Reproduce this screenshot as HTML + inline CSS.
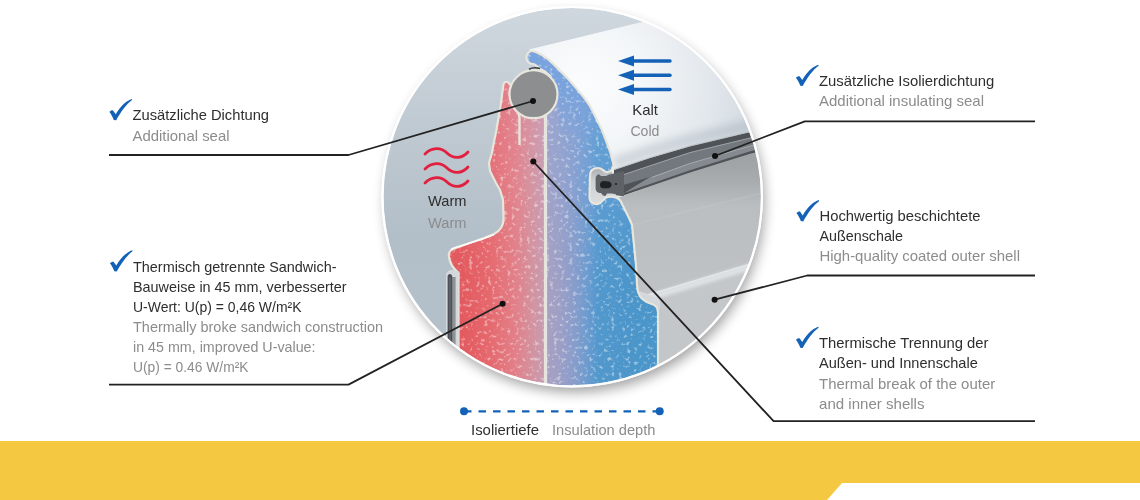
<!DOCTYPE html>
<html><head><meta charset="utf-8">
<style>
html,body{margin:0;padding:0;background:#fff;width:1140px;height:500px;overflow:hidden}
svg{display:block;will-change:transform}
text{font-family:"Liberation Sans",sans-serif;font-size:14.5px}
.d{fill:#2e2e2e}
.g{fill:#8c8c8c}
</style></head><body>
<svg width="1140" height="500" viewBox="0 0 1140 500">
<defs>
  <clipPath id="cc"><circle cx="572.2" cy="196.7" r="188.8"/></clipPath>
  <linearGradient id="bg" x1="0" y1="0" x2="0" y2="1">
    <stop offset="0" stop-color="#d0d8df"/>
    <stop offset="0.3" stop-color="#c0cad2"/>
    <stop offset="0.6" stop-color="#b2bec8"/>
    <stop offset="1" stop-color="#b4c0ca"/>
  </linearGradient>
  <linearGradient id="red" gradientUnits="userSpaceOnUse" x1="458" y1="0" x2="545" y2="0">
    <stop offset="0" stop-color="#e2585d"/>
    <stop offset="0.35" stop-color="#e5686d"/>
    <stop offset="0.65" stop-color="#e27f88"/>
    <stop offset="0.85" stop-color="#d3929f"/>
    <stop offset="1" stop-color="#c59cb2"/>
  </linearGradient>
  <linearGradient id="blue" gradientUnits="userSpaceOnUse" x1="546" y1="0" x2="640" y2="0">
    <stop offset="0" stop-color="#a8a0c0"/>
    <stop offset="0.14" stop-color="#9d9fc6"/>
    <stop offset="0.30" stop-color="#889dcb"/>
    <stop offset="0.45" stop-color="#6a9bcf"/>
    <stop offset="0.55" stop-color="#5298cd"/>
    <stop offset="1" stop-color="#4a95c9"/>
  </linearGradient>
  <radialGradient id="whiteface" gradientUnits="userSpaceOnUse" cx="585" cy="85" r="175">
    <stop offset="0" stop-color="#fbfcfd"/>
    <stop offset="0.35" stop-color="#f3f6f8"/>
    <stop offset="0.7" stop-color="#e3e8ed"/>
    <stop offset="1" stop-color="#d0d8df"/>
  </radialGradient>
  <linearGradient id="lowface" gradientUnits="userSpaceOnUse" x1="0" y1="160" x2="0" y2="390">
    <stop offset="0" stop-color="#a0a3a6"/>
    <stop offset="0.1" stop-color="#aaadb0"/>
    <stop offset="0.2" stop-color="#bbbec1"/>
    <stop offset="0.4" stop-color="#bdc0c3"/>
    <stop offset="1" stop-color="#c6c9cc"/>
  </linearGradient>
  <linearGradient id="bandg" gradientUnits="userSpaceOnUse" x1="0" y1="85" x2="0" y2="140">
    <stop offset="0" stop-color="#6e9ad6" stop-opacity="1"/>
    <stop offset="1" stop-color="#6e9ad6" stop-opacity="0"/>
  </linearGradient>
  <linearGradient id="redtop" gradientUnits="userSpaceOnUse" x1="0" y1="90" x2="0" y2="280">
    <stop offset="0" stop-color="#d8b4dc" stop-opacity="0.12"/>
    <stop offset="1" stop-color="#f4c4d0" stop-opacity="0"/>
  </linearGradient>
  <linearGradient id="bluetop" gradientUnits="userSpaceOnUse" x1="0" y1="90" x2="0" y2="280">
    <stop offset="0" stop-color="#86aee4" stop-opacity="0.45"/>
    <stop offset="1" stop-color="#86aee4" stop-opacity="0"/>
  </linearGradient>
  <linearGradient id="cavg" x1="0" y1="0" x2="0" y2="1">
    <stop offset="0" stop-color="#a9acaf"/>
    <stop offset="0.35" stop-color="#cdd0d2"/>
    <stop offset="1" stop-color="#dcdee0"/>
  </linearGradient>
  <filter id="blur15" x="-10%" y="-50%" width="120%" height="200%"><feGaussianBlur stdDeviation="1.6"/></filter>
  <filter id="blur3" x="-10%" y="-50%" width="120%" height="200%"><feGaussianBlur stdDeviation="3.5"/></filter>
  <filter id="sh" x="-20%" y="-20%" width="140%" height="140%">
    <feGaussianBlur stdDeviation="6.5"/>
  </filter>
  <path id="chk" d="M-23.1,-8.2 C-22,-9.4 -20.5,-10.2 -19.5,-9.7 L-16.7,-5.9 C-13.5,-12.2 -7.5,-18.7 -1,-21.3 L-0.2,-20.4 C-6.5,-15.7 -12,-7.7 -16.3,0.1 L-18.7,-0.2 C-20,-3.7 -21.5,-6.2 -23.1,-8.2 Z" fill="#1462b8"/>
  <path id="bluep" d="M533,64 C529,64 526.3,61 526.3,57.5 C526.3,53.5 529,50.8 533,51 L536,52 L542,55 L548,59.2 L554,64.6 L560,70.6 L566,76.6 L572,83.2 L578,90.4 L584,97.6 L590,106 L594,114 L598,122 L602,130 L605,138 L608,146 L610.5,153 L612,159 L613.5,164 C614,168 610,173 606,172 C603,171 602,168 598,168 C593,168 590,171 590,176 L589.5,197 C589.5,202 593,204.5 598,204 C602,203.5 603,199 606,197.5 C610,196 614,197 617,198 L620,200 L625,210 L630,220 L632,225 L634,245 L636,265 L637,285 L638,292 C640,298 645,302 651,303.6 C655,304.5 658,307 658,312 L658,400 L546,400 L546,114 L556,100 L550,76 L545,71.5 L540,69 C537,66 535.5,64 533,64 Z"/>
  <path id="redp" d="M503.5,84 C505,81 508,81 509.5,84 L516,92 L520,112 L545,114 L545,400 L458.5,400 L458.5,273 C455,270 450,265 449,257 C448,251 451,249.5 457,247.5 L484,238 L494,234 C500,231 503.6,226 503.6,218 L503,200 L500,190 L496,183 L490,171 L489,163 L491.6,154 L496.4,130 L500.5,106 Z"/>
  <clipPath id="foamclip"><use href="#redp"/><use href="#bluep"/></clipPath>
  <filter id="speck" x="0" y="0" width="100%" height="100%" filterUnits="objectBoundingBox">
    <feTurbulence type="fractalNoise" baseFrequency="0.26" numOctaves="2" seed="11"/>
    <feColorMatrix type="matrix" values="0 0 0 0 1  0 0 0 0 1  0 0 0 0 1  5 0 0 0 -2.85"/>
    <feGaussianBlur stdDeviation="0.7"/>
    <feComponentTransfer><feFuncA type="linear" slope="0.42"/></feComponentTransfer>
  </filter>
</defs>

<!-- yellow band -->
<rect x="0" y="441" width="1140" height="59" fill="#f5c842"/>
<polygon points="842,483 1140,483 1140,500 827,500" fill="#ffffff"/>

<!-- circle shadow -->
<circle cx="575" cy="203" r="189" fill="#000" opacity="0.38" filter="url(#sh)"/>
<circle cx="572.2" cy="196.7" r="190.8" fill="#fff"/>

<g clip-path="url(#cc)">
  <rect x="380" y="5" width="385" height="390" fill="url(#bg)"/>
  <!-- outer shell white face -->
  <path d="M529,49.5 L650,20 L770,19 L770,400 L600,400 L560,100 L540,60 Z" fill="url(#whiteface)"/>
  <!-- lower face -->
  <path d="M612,200 L690,172 L751,152 L775,146 L775,400 L620,400 Z" fill="url(#lowface)"/>
  <path d="M632,224 L770,190 L770,192 L632.5,226 Z" fill="#cdd0d3" opacity="0.2"/>
  <path d="M645,303 L770,265 L770,400 L650,400 Z" fill="#c4c7ca"/>
  <path d="M642,300 L770,261" fill="none" stroke="#dde1e4" stroke-width="7" filter="url(#blur15)"/>
  <path d="M640,297.5 L770,258" fill="none" stroke="#e6e9eb" stroke-width="1.5" opacity="0.9"/>
  <path d="M636,290 C640,297 646,301 652,302.5 L656,304 L660,310 L660,300 L645,293 Z" fill="#d5d8db"/>
  <!-- bar shading on white face -->
  <path d="M614,163 L650,151 L690,139.5 L751,125 L775,119" fill="none" stroke="#8a96a2" stroke-width="12" opacity="0.28" filter="url(#blur3)"/>
  <!-- seal bar -->
  <path d="M614,172 L614,170 L650,158 L690,146.3 L751,131.8 L775,126 L775,149 L751,153.4 L690,172.6 L622,196 L614,195 Z" fill="#4f5357"/>
  <path d="M617,176.5 L650,165.5 L690,152.3 L751,137.4 L775,131.5 L775,140 L751,145.4 L690,163 L650,177 L620,186 Z" fill="#72787d"/>
  <path d="M650,177 L690,163 L751,145.4 L775,140 L775,146 L751,151 L690,170.2 L624,193 Z" fill="#848a8f"/>
  <path d="M617,176.8 L650,165.8 L690,152.6 L751,137.8 L775,131.9" fill="none" stroke="#a2a8ad" stroke-width="0.9"/>
  <path d="M652,177.3 L690,163.4 L751,145.8 L775,140.4" fill="none" stroke="#a9aeb3" stroke-width="0.9"/>
  <path d="M614,169.5 L650,157.5 L690,145.8 L751,131.3 L775,125.5" fill="none" stroke="#bcc3c9" stroke-width="1.2" opacity="0.8"/>
  <!-- notch cavity -->
  <path d="M589,175 C590,167 597,166 602,169 L612,172 L618,205 L600,204 C593,204 589,200 589,195 Z" fill="url(#cavg)"/>
  <!-- seal profile -->
  <path d="M595.6,179 C595.6,176.5 597,174 599,174.2 L601,176 L606,176 L609,174.5 L612,174 L619,172 L624,171 L624,196 L619,195 L612,193.5 L607,193.5 L605.5,196 L603,195.5 L601,193 C597.5,193 595.6,191 595.6,188 Z" fill="#5e6266"/>
  <path d="M600,184.6 C600,182 602,181 604,181 L609,181.5 C611,182 612,184 611.5,185.5 C611,187.5 609,188.3 607,188.3 L603,188.3 C601,188.3 600,187 600,184.6 Z" fill="#1f2225"/>
  <circle cx="616" cy="184" r="1.1" fill="#1f2225"/>
  <!-- blue foam -->
  <use href="#bluep" fill="url(#blue)"/>
  <path d="M528,57.5 C528,54.5 530,52.5 533.5,52.8 L542,55 L548,59.2 L554,64.6 L560,70.6 L566,76.6 L572,83.2 L578,90.4 L584,97.6 L590,106 L594,114 L598,122 L602,130 L605,138 L608,146 L610.5,153 L612,159 L613.5,164 L612,159 L560,145 L558,100 L550,76 L545,71.5 L540,69 C537,66 535.5,63 533,63 C530,63 528,61 528,57.5 Z" fill="url(#bandg)"/>
  <use href="#bluep" fill="url(#bluetop)"/>
  <use href="#bluep" fill="none" stroke="#e8e6dc" stroke-width="2.2"/>
  <!-- red foam -->
  <use href="#redp" fill="url(#red)"/>
  <use href="#redp" fill="url(#redtop)"/>
  <g clip-path="url(#foamclip)"><rect x="440" y="40" width="230" height="360" filter="url(#speck)"/></g>
  <use href="#redp" fill="none" stroke="#e8e6dc" stroke-width="2.2"/>
  <path d="M451,249.5 C454,247.5 458,246.8 462,245.5 L484,238.5 L494,234.5" fill="none" stroke="#fbfbf8" stroke-width="1.6"/>
  <!-- inner shell lip -->
  <path d="M446,400 L446,276 C446,271.5 449,270 452,270 L458.5,271 L458.5,400 Z" fill="#d3d8dc"/>
  <rect x="452" y="277" width="3.6" height="123" fill="#8e9296"/>
  <path d="M447.6,342 L447.6,276.5 C447.6,273 452.2,273 452.2,276.5 L452.2,342 Z" fill="#4c5054"/>
  <path d="M449.2,340 L449.2,278 C449.2,276.5 450.8,276.5 450.8,278 L450.8,340 Z" fill="#62666a"/>
  <!-- dividers -->
  <rect x="544.2" y="110" width="2.4" height="290" fill="#e4e4df"/>
  <path d="M514,108 C518,111 519.5,114 519.5,118 L519.5,145" fill="none" stroke="#e8e6dc" stroke-width="2.4"/>
  <!-- seal circle -->
  <circle cx="533.5" cy="94.2" r="24" fill="#8c8e90" stroke="#e8e6dc" stroke-width="2.2"/>
  <path d="M529,69.2 C532,67.6 536,67.4 540,68.6" fill="none" stroke="#3a3d40" stroke-width="1.6"/>
</g>
<circle cx="572.2" cy="196.7" r="189.7" fill="none" stroke="#fff" stroke-width="2.2"/>

<!-- leader lines -->
<g fill="none" stroke="#222" stroke-width="1.8" stroke-linejoin="round">
  <polyline points="109,155 348.5,155 533,101"/>
  <polyline points="109,384.6 348.5,384.6 502.6,303.7"/>
  <polyline points="1035,121.4 804.8,121.4 715,156"/>
  <polyline points="1035,275.5 807.2,275.5 714.6,299.7"/>
  <polyline points="1035,421.2 773.6,421.2 533.3,161.5"/>
</g>
<g fill="#111">
  <circle cx="533" cy="101" r="3"/>
  <circle cx="502.6" cy="303.7" r="3"/>
  <circle cx="715" cy="156" r="3"/>
  <circle cx="714.6" cy="299.7" r="3"/>
  <circle cx="533.3" cy="161.5" r="3"/>
</g>

<!-- arrows -->
<g fill="#1462b8" stroke="#1462b8">
  <g><line x1="630" y1="61" x2="670" y2="61" stroke-width="3.4" stroke-linecap="round"/><polygon points="618,61 634,55.5 634,66.5" stroke="none"/></g>
  <g><line x1="630" y1="75.2" x2="670" y2="75.2" stroke-width="3.4" stroke-linecap="round"/><polygon points="618,75.2 634,69.7 634,80.7" stroke="none"/></g>
  <g><line x1="630" y1="89.5" x2="670" y2="89.5" stroke-width="3.4" stroke-linecap="round"/><polygon points="618,89.5 634,84 634,95" stroke="none"/></g>
</g>
<!-- waves -->
<g fill="none" stroke="#e21f3e" stroke-width="2.8" stroke-linecap="round" transform="translate(0,1)">
  <path d="M425,153 C432,146 441,146 447,152 C453,158 462,158 468,151"/>
  <path d="M425,168 C432,161 441,161 447,167 C453,173 462,173 468,166"/>
  <path d="M425,182 C432,175 441,175 447,181 C453,187 462,187 468,180"/>
</g>
<!-- dashed depth line -->
<g stroke="#1462b8" stroke-width="2.3">
  <line x1="464" y1="411.3" x2="660" y2="411.3" stroke-dasharray="7.5 7"/>
</g>
<circle cx="464" cy="411.3" r="4" fill="#1462b8"/>
<circle cx="659.7" cy="411.3" r="4" fill="#1462b8"/>

<!-- checkmarks -->
<use href="#chk" x="132.5" y="120.2"/>
<use href="#chk" x="133" y="271.5"/>
<use href="#chk" x="819" y="86"/>
<use href="#chk" x="819.5" y="221.3"/>
<use href="#chk" x="819" y="348"/>

<!-- texts -->
<text class="d" x="132.5" y="120.2" textLength="136.5" lengthAdjust="spacingAndGlyphs">Zusätzliche Dichtung</text>
<text class="g" x="132.5" y="140.5" textLength="97" lengthAdjust="spacingAndGlyphs">Additional seal</text>

<text class="d" x="133" y="272" textLength="203.5" lengthAdjust="spacingAndGlyphs">Thermisch getrennte Sandwich-</text>
<text class="d" x="133" y="292" textLength="213.5" lengthAdjust="spacingAndGlyphs">Bauweise in 45 mm, verbesserter</text>
<text class="d" x="133" y="312" textLength="168.5" lengthAdjust="spacingAndGlyphs">U-Wert: U(p) = 0,46 W/m²K</text>
<text class="g" x="133" y="332" textLength="250" lengthAdjust="spacingAndGlyphs">Thermally broke sandwich construction</text>
<text class="g" x="133" y="352" textLength="182.5" lengthAdjust="spacingAndGlyphs">in 45 mm, improved U-value:</text>
<text class="g" x="133" y="372" textLength="115.5" lengthAdjust="spacingAndGlyphs">U(p) = 0.46 W/m²K</text>

<text class="d" x="819" y="86" textLength="175.2" lengthAdjust="spacingAndGlyphs">Zusätzliche Isolierdichtung</text>
<text class="g" x="819" y="106.3" textLength="165" lengthAdjust="spacingAndGlyphs">Additional insulating seal</text>

<text class="d" x="819.5" y="221.3" textLength="161" lengthAdjust="spacingAndGlyphs">Hochwertig beschichtete</text>
<text class="d" x="819.5" y="241.3" textLength="83.5" lengthAdjust="spacingAndGlyphs">Außenschale</text>
<text class="g" x="819.5" y="261.3" textLength="200.5" lengthAdjust="spacingAndGlyphs">High-quality coated outer shell</text>

<text class="d" x="819" y="348" textLength="169.5" lengthAdjust="spacingAndGlyphs">Thermische Trennung der</text>
<text class="d" x="819" y="368.3" textLength="158.8" lengthAdjust="spacingAndGlyphs">Außen- und Innenschale</text>
<text class="g" x="819" y="388.5" textLength="176.2" lengthAdjust="spacingAndGlyphs">Thermal break of the outer</text>
<text class="g" x="819" y="408.8" textLength="105.5" lengthAdjust="spacingAndGlyphs">and inner shells</text>

<text class="d" x="632.3" y="114.5" textLength="25.7" lengthAdjust="spacingAndGlyphs">Kalt</text>
<text class="g" x="630.4" y="135.8" textLength="29" lengthAdjust="spacingAndGlyphs">Cold</text>
<text class="d" x="428" y="206" textLength="38.5" lengthAdjust="spacingAndGlyphs">Warm</text>
<text class="g" x="428" y="228" textLength="38.5" lengthAdjust="spacingAndGlyphs">Warm</text>

<text class="d" x="471" y="434.5" textLength="68" lengthAdjust="spacingAndGlyphs">Isoliertiefe</text>
<text class="g" x="552" y="434.5" textLength="103.5" lengthAdjust="spacingAndGlyphs">Insulation depth</text>
</svg>
</body></html>
